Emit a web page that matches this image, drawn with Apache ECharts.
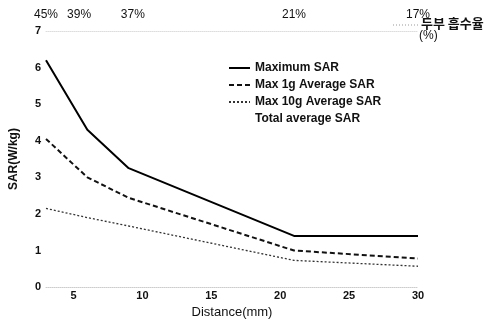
<!DOCTYPE html>
<html><head><meta charset="utf-8">
<script src="https://cdn.jsdelivr.net/npm/echarts@6/dist/echarts.min.js"></script>
<style>html,body{margin:0;padding:0;background:#fff}#c{width:491px;height:324px}</style>
</head><body><div id="c"></div>
<script>
const distance = [3, 6, 9, 21, 30];
const maxSAR = [6.2, 4.3, 3.25, 1.4, 1.4];
const max1g = [4.05, 3.0, 2.44, 1.0, 0.78];
const max10g = [2.15, 1.9, 1.67, 0.73, 0.57];
const xTicks = [5, 10, 15, 20, 25, 30];
const yTicks = [0, 1, 2, 3, 4, 5, 6, 7];
const absorbX = [3, 5.4, 9.3, 21, 30];
const absorbLabels = ['45%', '39%', '37%', '21%', '17%'];
const seriesNames = ['Maximum SAR', 'Max 1g Average SAR', 'Max 10g Average SAR', 'Total average SAR'];

const pairs = v => distance.map((d, i) => [d, v[i]]);
const chart = echarts.init(document.getElementById('c'), null, {renderer: 'canvas'});
const F = '"Liberation Sans", Arial, sans-serif';
chart.setOption({
  animation: false,
  backgroundColor: '#fff',
  grid: {left: 44, right: 73, top: 31, bottom: 30},
  legend: {
    left: 223, top: 57, orient: 'vertical', itemGap: 5, itemWidth: 21, itemHeight: 12,
    itemStyle: {opacity: 0},
    data: seriesNames,
    textStyle: {fontFamily: F, fontSize: 12, fontWeight: 'bold', color: '#111'}
  },
  xAxis: [{
    type: 'value', min: 3, max: 30,
    name: 'Distance(mm)', nameLocation: 'middle', nameGap: 12,
    nameTextStyle: {fontFamily: F, fontSize: 13, color: '#111'},
    axisLine: {show: true, lineStyle: {color: '#ccc', type: 'dotted'}},
    axisTick: {show: false},
    splitLine: {show: false},
    axisLabel: {customValues: xTicks, margin: 3, fontFamily: F, fontSize: 11, fontWeight: 'bold', color: '#111'}
  }, {
    type: 'value', min: 3, max: 30, position: 'top',
    axisLine: {show: true, lineStyle: {color: '#ddd', type: 'dotted'}},
    axisTick: {show: false}, splitLine: {show: false},
    axisLabel: {
      customValues: absorbX, margin: 10, fontFamily: F, fontSize: 12, color: '#111',
      formatter: v => { const i = absorbX.indexOf(v); return i >= 0 ? absorbLabels[i] : ''; }
    }
  }],
  yAxis: {
    type: 'value', min: 0, max: 7, interval: 1,
    name: 'SAR(W/kg)', nameLocation: 'middle', nameGap: 26,
    nameTextStyle: {fontFamily: F, fontSize: 12, fontWeight: 'bold', color: '#111'},
    axisLine: {show: false}, axisTick: {show: false}, splitLine: {show: false},
    axisLabel: {margin: 5, fontFamily: F, fontSize: 11, fontWeight: 'bold', color: '#111'}
  },
  graphic: [
    {type: 'line', shape: {x1: 393, y1: 25, x2: 418, y2: 25}, style: {stroke: '#999', lineWidth: 1, lineDash: [1, 2]}},
    {type: 'text', left: 421, top: 17, style: {text: '두부 흡수율', font: 'bold 13px "Noto Sans CJK KR"', fill: '#111'}},
    {type: 'text', left: 419, top: 30, style: {text: '(%)', font: '12px ' + F, fill: '#111'}}
  ],
  series: [
    {name: seriesNames[0], type: 'line', data: pairs(maxSAR), symbol: 'none', color: '#000',
     lineStyle: {color: '#000', width: 2}},
    {name: seriesNames[1], type: 'line', data: pairs(max1g), symbol: 'none', color: '#111',
     lineStyle: {color: '#111', width: 2, type: [5, 3]}},
    {name: seriesNames[2], type: 'line', data: pairs(max10g), symbol: 'none', color: '#333',
     lineStyle: {color: '#333', width: 1.3, type: [2, 2]}},
    {name: seriesNames[3], type: 'line', data: [], symbol: 'none', color: 'rgba(0,0,0,0)',
     lineStyle: {color: 'rgba(0,0,0,0)'}}
  ]
});
</script></body></html>
